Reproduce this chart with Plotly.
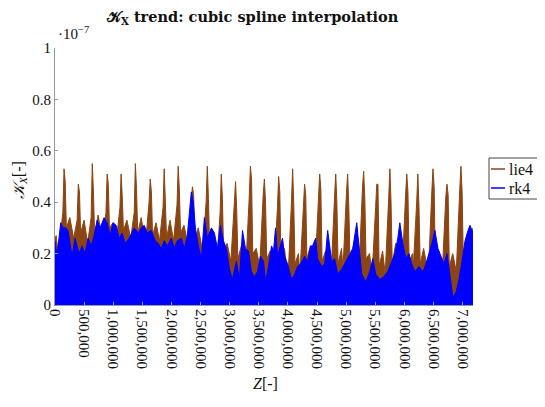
import plotly.graph_objects as go

# ---------------- data ----------------
# Z positions are in millions; K_X values are in units of 1e-7
lie4_z = [
    0.000, 0.020, 0.045,
    0.075, 0.135, 0.155, 0.175, 0.195, 0.255,
    0.320, 0.380, 0.400, 0.420, 0.440, 0.500,
    0.560, 0.620, 0.640, 0.660, 0.680, 0.740,
    0.815, 0.875, 0.895, 0.915, 0.935, 0.995,
    1.055, 1.115, 1.135, 1.155, 1.175, 1.235,
    1.300, 1.360, 1.380, 1.400, 1.420, 1.480,
    1.555, 1.615, 1.635, 1.655, 1.675, 1.735,
    1.795, 1.855, 1.875, 1.895, 1.915, 1.975,
    2.035, 2.095, 2.115, 2.135, 2.155, 2.215,
    2.280, 2.340, 2.360, 2.380, 2.400, 2.460,
    2.535, 2.595, 2.615, 2.635, 2.655, 2.715,
    2.775, 2.835, 2.855, 2.875, 2.895, 2.955,
    3.020, 3.080, 3.100, 3.120, 3.140, 3.200,
    3.275, 3.335, 3.355, 3.375, 3.395, 3.455,
    3.515, 3.575, 3.595, 3.615, 3.635, 3.695,
    3.760, 3.820, 3.840, 3.860, 3.880, 3.940,
    4.000, 4.060, 4.080, 4.100, 4.120, 4.180,
    4.205, 4.265, 4.285, 4.305, 4.325, 4.385,
    4.465, 4.525, 4.545, 4.565, 4.585, 4.645,
    4.740, 4.800, 4.820, 4.840, 4.860, 4.920,
    4.945, 5.005, 5.025, 5.045, 5.065, 5.125,
    5.220, 5.280, 5.300, 5.320, 5.340, 5.400,
    5.445, 5.505, 5.525, 5.545, 5.565, 5.625,
    5.670, 5.730, 5.750, 5.770, 5.790, 5.850,
    5.960, 6.020, 6.040, 6.060, 6.080, 6.140,
    6.150, 6.210, 6.230, 6.250, 6.270, 6.330,
    6.410, 6.470, 6.490, 6.510, 6.530, 6.590,
    6.650, 6.710, 6.730, 6.750, 6.770, 6.830,
    6.890, 6.950, 6.970, 6.990, 7.010, 7.070,
    7.120, 7.177,
]
lie4_k = [
    0.26, 0.27, 0.22,
    0.24, 0.36, 0.53, 0.48, 0.30, 0.34,
    0.26, 0.33, 0.47, 0.44, 0.28, 0.33,
    0.24, 0.34, 0.55, 0.44, 0.27, 0.35,
    0.25, 0.36, 0.51, 0.47, 0.30, 0.32,
    0.25, 0.38, 0.51, 0.42, 0.29, 0.33,
    0.26, 0.36, 0.55, 0.45, 0.28, 0.34,
    0.24, 0.40, 0.49, 0.44, 0.27, 0.32,
    0.25, 0.38, 0.53, 0.40, 0.26, 0.33,
    0.25, 0.39, 0.54, 0.45, 0.28, 0.31,
    0.24, 0.41, 0.46, 0.43, 0.25, 0.30,
    0.21, 0.40, 0.54, 0.41, 0.22, 0.27,
    0.15, 0.36, 0.51, 0.41, 0.20, 0.24,
    0.17, 0.40, 0.48, 0.37, 0.18, 0.23,
    0.14, 0.42, 0.54, 0.49, 0.20, 0.22,
    0.15, 0.43, 0.49, 0.40, 0.18, 0.21,
    0.13, 0.38, 0.50, 0.44, 0.17, 0.22,
    0.10, 0.40, 0.53, 0.39, 0.16, 0.20,
    0.12, 0.38, 0.47, 0.43, 0.18, 0.23,
    0.13, 0.42, 0.51, 0.45, 0.17, 0.21,
    0.12, 0.42, 0.51, 0.40, 0.16, 0.22,
    0.14, 0.44, 0.51, 0.38, 0.17, 0.23,
    0.13, 0.46, 0.52, 0.41, 0.18, 0.20,
    0.12, 0.38, 0.47, 0.47, 0.15, 0.21,
    0.12, 0.42, 0.53, 0.40, 0.16, 0.24,
    0.13, 0.43, 0.51, 0.44, 0.17, 0.20,
    0.14, 0.40, 0.51, 0.38, 0.16, 0.22,
    0.12, 0.44, 0.53, 0.46, 0.16, 0.21,
    0.13, 0.42, 0.47, 0.43, 0.15, 0.20,
    0.13, 0.45, 0.54, 0.44, 0.18, 0.21,
    0.24, 0.30,
]

rk4_z = [
    0.000, 0.034, 0.098, 0.138, 0.189, 0.224, 0.293, 0.344, 0.413, 0.465,
    0.516, 0.568, 0.620, 0.671, 0.723, 0.775, 0.843, 0.895, 0.947, 0.998,
    1.050, 1.102, 1.153, 1.205, 1.274, 1.360, 1.429, 1.480, 1.532, 1.583,
    1.652, 1.721, 1.773, 1.824, 1.876, 1.928, 1.997, 2.048, 2.100, 2.169,
    2.220, 2.272, 2.341, 2.375, 2.410, 2.461, 2.513, 2.565, 2.616, 2.685,
    2.737, 2.788, 2.840, 2.892, 2.943, 2.995, 3.046, 3.115, 3.167, 3.219,
    3.270, 3.322, 3.373, 3.425, 3.477, 3.528, 3.580, 3.614, 3.666, 3.718,
    3.752, 3.787, 3.821, 3.907, 3.941, 3.993, 4.062, 4.114, 4.165, 4.217,
    4.286, 4.337, 4.389, 4.423, 4.475, 4.509, 4.578, 4.630, 4.682, 4.750,
    4.802, 4.854, 4.923, 4.974, 5.043, 5.112, 5.181, 5.215, 5.267, 5.336,
    5.404, 5.456, 5.508, 5.577, 5.645, 5.714, 5.783, 5.835, 5.886, 5.921,
    5.972, 6.024, 6.076, 6.127, 6.179, 6.248, 6.317, 6.368, 6.420, 6.472,
    6.523, 6.575, 6.627, 6.678, 6.730, 6.781, 6.833, 6.885, 6.936, 6.988,
    7.040, 7.091, 7.126, 7.177,
]
rk4_k = [
    0.25, 0.19, 0.32, 0.30, 0.30, 0.29, 0.19, 0.26, 0.20, 0.23,
    0.20, 0.26, 0.23, 0.27, 0.33, 0.30, 0.34, 0.32, 0.27, 0.32,
    0.31, 0.26, 0.28, 0.24, 0.26, 0.30, 0.28, 0.30, 0.31, 0.28,
    0.29, 0.25, 0.24, 0.22, 0.25, 0.23, 0.26, 0.22, 0.25, 0.26,
    0.22, 0.27, 0.44, 0.40, 0.30, 0.23, 0.18, 0.34, 0.26, 0.30,
    0.28, 0.22, 0.31, 0.25, 0.22, 0.14, 0.10, 0.17, 0.10, 0.29,
    0.22, 0.21, 0.13, 0.11, 0.13, 0.19, 0.17, 0.09, 0.15, 0.23,
    0.21, 0.30, 0.19, 0.26, 0.19, 0.16, 0.10, 0.12, 0.15, 0.16,
    0.19, 0.17, 0.23, 0.23, 0.26, 0.18, 0.15, 0.16, 0.29, 0.17,
    0.18, 0.12, 0.14, 0.16, 0.19, 0.22, 0.32, 0.24, 0.12, 0.09,
    0.13, 0.18, 0.12, 0.10, 0.11, 0.13, 0.17, 0.20, 0.26, 0.32,
    0.24, 0.18, 0.20, 0.16, 0.13, 0.15, 0.13, 0.16, 0.20, 0.24,
    0.29, 0.22, 0.19, 0.16, 0.20, 0.12, 0.03, 0.05, 0.10, 0.17,
    0.25, 0.29, 0.31, 0.28,
]

series_names = ["lie4", "rk4"]

z_scale = 1e6            # Z values above are in millions
x_ticks = [0, 500000, 1000000, 1500000, 2000000, 2500000, 3000000, 3500000,
           4000000, 4500000, 5000000, 5500000, 6000000, 6500000, 7000000]
y_ticks = [0, 0.2, 0.4, 0.6, 0.8, 1]
y_tick_text = ["0", "0.2", "0.4", "0.6", "0.8", "1"]

BROWN = "#8B4513"
BLUE = "#0000FF"
COLORS = [BROWN, BLUE]
FONT = "Liberation Serif"
TXT = "#111"

# page body has an 8px margin; figure is sized to fit the 545x407 window
W, H = 537, 399
L, T, R, B = 47, 40, 72, 102
PW, PH = W - L - R, H - T - B


def px_x(page_x):
    """page pixel x -> paper x"""
    return (page_x - 8 - L) / PW


def px_y(page_y):
    """page pixel y -> paper y"""
    return (H - B - (page_y - 8)) / PH


fig = go.Figure()
fig.add_trace(go.Scatter(
    x=[v * z_scale for v in lie4_z], y=lie4_k, mode="lines", name="lie4",
    line=dict(color=BROWN, width=1), fill="tozeroy", fillcolor=BROWN,
    showlegend=False, hoverinfo="skip"))
fig.add_trace(go.Scatter(
    x=[v * z_scale for v in rk4_z], y=rk4_k, mode="lines", name="rk4",
    line=dict(color=BLUE, width=1), fill="tozeroy", fillcolor=BLUE,
    showlegend=False, hoverinfo="skip"))

fig.update_layout(
    width=W, height=H,
    margin=dict(l=L, r=R, t=T, b=B, autoexpand=False),
    paper_bgcolor="white", plot_bgcolor="white",
    font=dict(family=FONT, size=15, color=TXT),
    showlegend=False,
    xaxis=dict(range=[0, 7.177e6], tickvals=x_ticks, tickformat=",d",
               tickangle=90, ticks="inside", ticklen=3, tickcolor="#999",
               showline=True, linecolor="#999", linewidth=1,
               showgrid=False, zeroline=False, mirror=False, automargin=False,
               tickfont=dict(family=FONT, size=15, color=TXT)),
    yaxis=dict(range=[0, 1], tickvals=y_ticks, ticktext=y_tick_text,
               ticks="inside", ticklen=3, tickcolor="#999",
               showline=True, linecolor="#999", linewidth=1,
               showgrid=False, zeroline=False, mirror=False, automargin=False,
               tickfont=dict(family=FONT, size=15, color=TXT)),
)

# chart title
fig.add_annotation(text="<b>𝒦<sub>X</sub> trend: cubic spline interpolation</b>",
                   xref="paper", yref="paper", x=px_x(252), y=px_y(18),
                   xanchor="center", yanchor="middle", showarrow=False,
                   font=dict(family="DejaVu Serif", size=14.5, color=TXT))

# legend box drawn by hand (pgfplots-style, to the right of the axis)
fig.add_shape(type="rect", xref="paper", yref="paper",
              x0=px_x(489), x1=px_x(542), y0=px_y(199), y1=px_y(158),
              line=dict(color="#444", width=1), fillcolor="white")
for name, color, py in zip(series_names, COLORS, [169, 188]):
    fig.add_shape(type="line", xref="paper", yref="paper",
                  x0=px_x(491), x1=px_x(505), y0=px_y(py), y1=px_y(py),
                  line=dict(color=color, width=1.5))
    fig.add_annotation(text=name, xref="paper", yref="paper",
                       x=px_x(507), y=px_y(py), xanchor="left",
                       yanchor="middle", showarrow=False,
                       font=dict(family=FONT, size=16, color=TXT))

# exponent marker above the y axis
fig.add_annotation(text="·10<sup>−7</sup>", xref="paper", yref="paper",
                   x=0.0, y=1.0, xanchor="left", yanchor="bottom",
                   xshift=1, yshift=4, showarrow=False,
                   font=dict(family=FONT, size=15, color=TXT))
# axis titles
fig.add_annotation(text="<i>Z</i>[-]", xref="paper", yref="paper",
                   x=px_x(265), y=px_y(383), xanchor="center",
                   yanchor="middle", showarrow=False,
                   font=dict(family=FONT, size=16, color=TXT))
fig.add_annotation(text="<i>𝒦<sub>X</sub></i>[-]", xref="paper", yref="paper",
                   x=px_x(19), y=px_y(180), xanchor="center",
                   yanchor="middle", textangle=-90, showarrow=False,
                   font=dict(family=FONT, size=16, color=TXT))

fig.write_html("out.html")
